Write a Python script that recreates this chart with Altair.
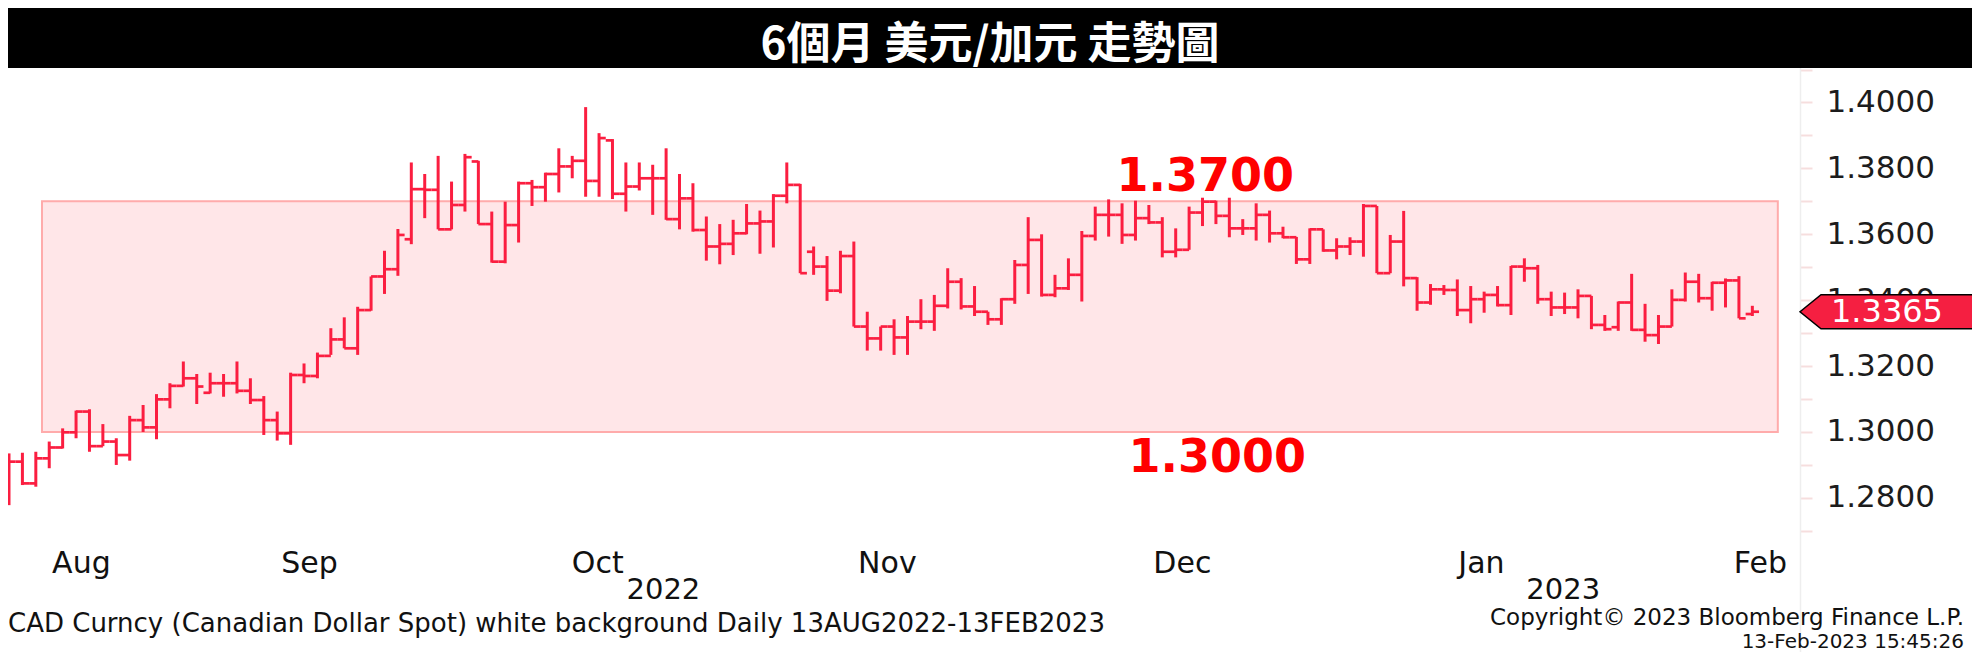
import altair as alt
import pandas as pd

# ---- data (USD/CAD daily OHLC, 15 Aug 2022 - 13 Feb 2023) ----
open_ = [1.2890, 1.2910, 1.2844, 1.2920, 1.2953, 1.2999, 1.3062, 1.2957, 1.2971, 1.2930,
         1.3036, 1.3014, 1.3099, 1.3140, 1.3163, 1.3119, 1.3148, 1.3148, 1.3125, 1.3097,
         1.3036, 1.2996, 1.3173, 1.3170, 1.3231, 1.3281, 1.3254, 1.3370, 1.3472, 1.3494,
         1.3585, 1.3737, 1.3735, 1.3615, 1.3689, 1.3821, 1.3631, 1.3517, 1.3628, 1.3755,
         1.3743, 1.3783, 1.3806, 1.3823, 1.3762, 1.3885, 1.3723, 1.3745, 1.3770, 1.3770,
         1.3646, 1.3709, 1.3613, 1.3563, 1.3571, 1.3603, 1.3633, 1.3639, 1.3717, 1.3750,
         1.3547, 1.3502, 1.3429, 1.3534, 1.3320, 1.3284, 1.3320, 1.3287, 1.3335, 1.3335,
         1.3383, 1.3456, 1.3381, 1.3365, 1.3342, 1.3403, 1.3507, 1.3583, 1.3416, 1.3436,
         1.3477, 1.3595, 1.3659, 1.3659, 1.3598, 1.3649, 1.3636, 1.3547, 1.3553, 1.3666,
         1.3699, 1.3656, 1.3618, 1.3618, 1.3659, 1.3603, 1.3591, 1.3524, 1.3615, 1.3551,
         1.3563, 1.3578, 1.3686, 1.3482, 1.3578, 1.3467, 1.3393, 1.3433, 1.3431, 1.3370,
         1.3403, 1.3416, 1.3385, 1.3502, 1.3497, 1.3403, 1.3378, 1.3378, 1.3413, 1.3325,
         1.3318, 1.3393, 1.3310, 1.3294, 1.3320, 1.3401, 1.3456, 1.3406, 1.3453, 1.3460,
         1.3358]
high = [1.2935, 1.2937, 1.2940, 1.2971, 1.3011, 1.3065, 1.3069, 1.3024, 1.2981, 1.3049,
        1.3082, 1.3115, 1.3148, 1.3214, 1.3176, 1.3180, 1.3176, 1.3214, 1.3163, 1.3109,
        1.3062, 1.3180, 1.3208, 1.3241, 1.3315, 1.3348, 1.3380, 1.3472, 1.3550, 1.3616,
        1.3818, 1.3783, 1.3838, 1.3760, 1.3844, 1.3823, 1.3669, 1.3699, 1.3760, 1.3765,
        1.3787, 1.3861, 1.3838, 1.3986, 1.3907, 1.3889, 1.3818, 1.3818, 1.3811, 1.3861,
        1.3783, 1.3755, 1.3654, 1.3631, 1.3644, 1.3692, 1.3672, 1.3722, 1.3818, 1.3753,
        1.3563, 1.3534, 1.3550, 1.3578, 1.3365, 1.3320, 1.3342, 1.3352, 1.3403, 1.3416,
        1.3497, 1.3467, 1.3443, 1.3365, 1.3406, 1.3522, 1.3652, 1.3600, 1.3477, 1.3527,
        1.3610, 1.3684, 1.3706, 1.3694, 1.3702, 1.3689, 1.3652, 1.3618, 1.3684, 1.3711,
        1.3702, 1.3711, 1.3646, 1.3694, 1.3672, 1.3623, 1.3592, 1.3618, 1.3615, 1.3588,
        1.3591, 1.3692, 1.3686, 1.3598, 1.3671, 1.3470, 1.3449, 1.3446, 1.3463, 1.3443,
        1.3426, 1.3443, 1.3504, 1.3527, 1.3507, 1.3426, 1.3423, 1.3433, 1.3413, 1.3355,
        1.3396, 1.3480, 1.3389, 1.3355, 1.3433, 1.3484, 1.3480, 1.3456, 1.3466, 1.3473,
        1.3383]
low = [1.2778, 1.2839, 1.2834, 1.2890, 1.2950, 1.2981, 1.2940, 1.2957, 1.2900, 1.2913,
       1.3000, 1.2978, 1.3072, 1.3138, 1.3085, 1.3117, 1.3107, 1.3117, 1.3085, 1.2991,
       1.2974, 1.2961, 1.3148, 1.3163, 1.3234, 1.3254, 1.3234, 1.3368, 1.3419, 1.3474,
       1.3570, 1.3649, 1.3615, 1.3615, 1.3669, 1.3631, 1.3514, 1.3512, 1.3575, 1.3686,
       1.3699, 1.3727, 1.3770, 1.3714, 1.3714, 1.3707, 1.3669, 1.3733, 1.3659, 1.3644,
       1.3615, 1.3608, 1.3520, 1.3509, 1.3537, 1.3600, 1.3541, 1.3560, 1.3694, 1.3482,
       1.3477, 1.3398, 1.3421, 1.3320, 1.3247, 1.3247, 1.3234, 1.3234, 1.3312, 1.3307,
       1.3375, 1.3372, 1.3352, 1.3325, 1.3325, 1.3389, 1.3419, 1.3411, 1.3409, 1.3431,
       1.3396, 1.3581, 1.3593, 1.3571, 1.3581, 1.3631, 1.3530, 1.3530, 1.3553, 1.3625,
       1.3631, 1.3591, 1.3598, 1.3581, 1.3575, 1.3588, 1.3510, 1.3510, 1.3547, 1.3524,
       1.3537, 1.3532, 1.3482, 1.3482, 1.3442, 1.3368, 1.3386, 1.3416, 1.3352, 1.3330,
       1.3362, 1.3381, 1.3355, 1.3456, 1.3389, 1.3352, 1.3358, 1.3345, 1.3312, 1.3307,
       1.3307, 1.3307, 1.3274, 1.3267, 1.3320, 1.3396, 1.3393, 1.3368, 1.3378, 1.3345,
       1.3352]
close = [1.2910, 1.2844, 1.2920, 1.2953, 1.2999, 1.3062, 1.2957, 1.2971, 1.2930, 1.3036,
         1.3014, 1.3099, 1.3140, 1.3163, 1.3138, 1.3148, 1.3148, 1.3125, 1.3097, 1.3036,
         1.2996, 1.3173, 1.3170, 1.3231, 1.3281, 1.3254, 1.3370, 1.3472, 1.3494, 1.3598,
         1.3737, 1.3735, 1.3615, 1.3689, 1.3834, 1.3631, 1.3517, 1.3628, 1.3755, 1.3743,
         1.3783, 1.3806, 1.3823, 1.3762, 1.3892, 1.3723, 1.3745, 1.3770, 1.3770, 1.3646,
         1.3709, 1.3613, 1.3563, 1.3571, 1.3603, 1.3633, 1.3639, 1.3717, 1.3750, 1.3482,
         1.3502, 1.3429, 1.3534, 1.3320, 1.3284, 1.3320, 1.3287, 1.3335, 1.3335, 1.3383,
         1.3456, 1.3381, 1.3365, 1.3342, 1.3403, 1.3507, 1.3583, 1.3416, 1.3436, 1.3477,
         1.3595, 1.3659, 1.3659, 1.3598, 1.3649, 1.3636, 1.3547, 1.3553, 1.3666, 1.3699,
         1.3656, 1.3618, 1.3618, 1.3659, 1.3603, 1.3591, 1.3524, 1.3615, 1.3551, 1.3563,
         1.3578, 1.3686, 1.3482, 1.3578, 1.3467, 1.3393, 1.3433, 1.3431, 1.3370, 1.3403,
         1.3416, 1.3385, 1.3502, 1.3497, 1.3403, 1.3378, 1.3378, 1.3413, 1.3325, 1.3312,
         1.3393, 1.3310, 1.3294, 1.3320, 1.3401, 1.3456, 1.3406, 1.3453, 1.3460, 1.3345,
         1.3365]

months = ["Aug", "Sep", "Oct", "Nov", "Dec", "Jan", "Feb"]
month_pos = [5.4, 22.4, 43.9, 65.5, 87.5, 109.8, 130.6]   # in trading-day index units
years = ["2022", "2023"]
year_pos = [48.8, 115.9]

band_low, band_high = 1.30, 1.37
band_start, band_end = 2.46, 131.9
last_price = 1.3365
y_tick_values = [1.27, 1.28, 1.29, 1.30, 1.31, 1.32, 1.33, 1.34, 1.35, 1.36,
                 1.37, 1.38, 1.39, 1.40, 1.41, 1.42]

title_text = "6個月 美元/加元 走勢圖"
footer_left = "CAD Curncy (Canadian Dollar Spot) white background  Daily 13AUG2022-13FEB2023"
footer_right1 = "Copyright© 2023 Bloomberg Finance L.P."
footer_right2 = "13-Feb-2023 15:45:26"

# ---- tables ----
df = pd.DataFrame({"i": list(range(len(close))), "open": open_, "high": high,
                   "low": low, "close": close})
df_band = pd.DataFrame({"x0": [band_start], "x1": [band_end], "y0": [band_low], "y1": [band_high]})
df_m = pd.DataFrame({"m": months, "pos": month_pos})
df_y = pd.DataFrame({"yr": years, "pos": year_pos})
df_hi = pd.DataFrame({"t": ["1.3700"], "pos": [89.2], "v": [band_high]})
df_lo = pd.DataFrame({"t": ["1.3000"], "pos": [90.1], "v": [band_low]})
df_last = pd.DataFrame({"last": [last_price], "t": [f"{last_price:.4f}"]})
one = pd.DataFrame({"k": [0]})

W, H = 1964, 644
RED = "#fb1e40"
xs = alt.Scale(domain=[-0.0746, 146.38], nice=False, zero=False)
ys = alt.Scale(domain=[1.23323, 1.42868], nice=False, zero=False)
yaxis = alt.Axis(orient="right", offset=-172, values=y_tick_values,
                 labelExpr="abs(round(datum.value*100) % 2) == 0 ? format(datum.value, '.4f') : ''",
                 labelFont="DejaVu Sans", labelFontSize=31, labelColor="#1c1c1c",
                 labelPadding=14, tickSize=12, tickColor="#f6dede", tickWidth=2,
                 domainColor="#eeeeee", domainWidth=1.5, grid=False, title=None,
                 labelBaseline="middle", labelAlign="left", zindex=0)


def X(f):
    return alt.X(f, scale=xs, axis=None)


def Y(f):
    return alt.Y(f, scale=ys, axis=yaxis)


band = alt.Chart(df_band).mark_rect(fill="#ffe6e8", stroke="#ffabab", strokeWidth=2).encode(
    x=X("x0:Q"), x2="x1:Q", y=Y("y0:Q"), y2="y1:Q")

base = alt.Chart(df).transform_calculate(xl="datum.i - 0.5", xr="datum.i + 0.5")
hl = base.mark_rule(color=RED, strokeWidth=3).encode(x=X("i:Q"), y=Y("low:Q"), y2="high:Q")
op = base.mark_rule(color=RED, strokeWidth=2.7).encode(x=X("xl:Q"), x2="i:Q", y=Y("open:Q"))
cl = base.mark_rule(color=RED, strokeWidth=2.7).encode(x=X("i:Q"), x2="xr:Q", y=Y("close:Q"))

hi_lbl = alt.Chart(df_hi).mark_text(font="DejaVu Sans", fontWeight="bold", fontSize=46,
                                    color="#ff0000", dy=-24, baseline="middle").encode(
    x=X("pos:Q"), y=Y("v:Q"), text="t:N")
lo_lbl = alt.Chart(df_lo).mark_text(font="DejaVu Sans", fontWeight="bold", fontSize=46,
                                    color="#ff0000", dy=26, baseline="middle").encode(
    x=X("pos:Q"), y=Y("v:Q"), text="t:N")

tag_path = "M -1 0 L -0.779 -0.179 L 1 -0.179 L 1 0.179 L -0.779 0.179 Z"
tag = alt.Chart(df_last).mark_point(shape=tag_path, size=36100, filled=True, fill="#f51f41",
                                    stroke="#000000", strokeWidth=1.5, opacity=1).encode(
    x=alt.value(1887), y=Y("last:Q"))
tag_txt = alt.Chart(df_last).mark_text(font="DejaVu Sans", fontSize=32, color="white",
                                       align="left", baseline="middle").encode(
    x=alt.value(1823), y=Y("last:Q"), text="t:N")

mon = alt.Chart(df_m).mark_text(font="DejaVu Sans", fontSize=30, color="#111111",
                                baseline="middle").encode(
    x=X("pos:Q"), y=alt.value(556), text="m:N")
yrs = alt.Chart(df_y).mark_text(font="DejaVu Sans", fontSize=29, color="#111111",
                                baseline="middle").encode(
    x=X("pos:Q"), y=alt.value(582), text="yr:N")

title_bar = alt.Chart(one).mark_rect(color="black").encode(
    x=alt.value(0), x2=alt.value(W), y=alt.value(0), y2=alt.value(60))
title = alt.Chart(one).mark_text(text=title_text, font="Noto Sans CJK TC", fontWeight="bold",
                                 fontSize=44, color="white", baseline="middle").encode(
    x=alt.value(982), y=alt.value(38))

foot_l = alt.Chart(one).mark_text(text=footer_left, font="DejaVu Sans", fontSize=26,
                                  color="#111111", align="left", baseline="middle").encode(
    x=alt.value(0), y=alt.value(616))
foot_r1 = alt.Chart(one).mark_text(text=footer_right1, font="DejaVu Sans", fontSize=23,
                                   color="#111111", align="right", baseline="middle").encode(
    x=alt.value(1956), y=alt.value(610))
foot_r2 = alt.Chart(one).mark_text(text=footer_right2, font="DejaVu Sans", fontSize=20,
                                   color="#111111", align="right", baseline="middle").encode(
    x=alt.value(1956), y=alt.value(634))

chart = alt.layer(band, hl, op, cl, hi_lbl, lo_lbl, tag, tag_txt, mon, yrs,
                  title_bar, title, foot_l, foot_r1, foot_r2).properties(
    width=W, height=H, padding=0, background="white",
    autosize=alt.AutoSizeParams(type="none")
).configure_view(stroke=None)

chart.save("out.html", embed_options={"renderer": "svg", "actions": False})
